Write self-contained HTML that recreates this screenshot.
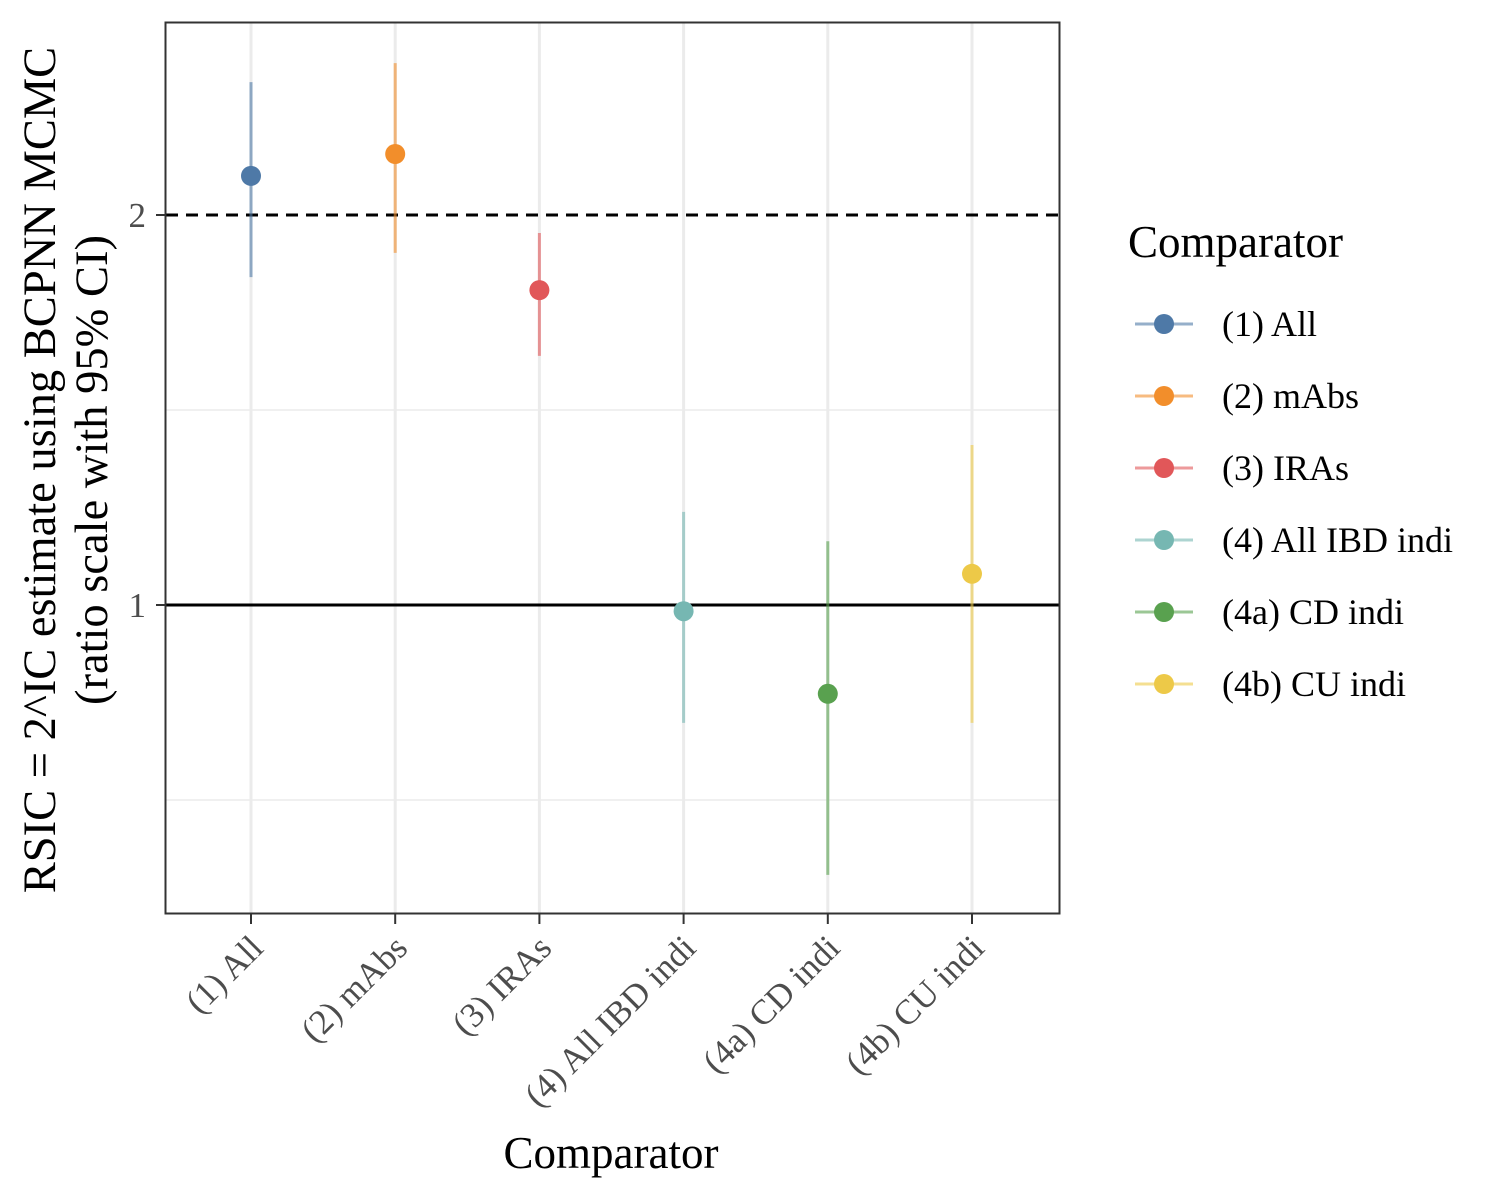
<!DOCTYPE html>
<html><head><meta charset="utf-8"><style>
body{margin:0;background:#fff}
svg{display:block;font-family:"Liberation Serif",serif}
</style></head><body>
<svg id="chart" width="1500" height="1200" viewBox="0 0 1500 1200">
<rect x="0" y="0" width="1500" height="1200" fill="#fff"/>
<g id="grid"></g>
<g id="marks"></g>
<rect x="165.5" y="22.5" width="894" height="891" fill="none" stroke="#333" stroke-width="2"/>
<g id="axes"></g>
<text x="611" y="1168" font-size="45" text-anchor="middle">Comparator</text>
<text transform="translate(55,470) rotate(-90)" font-size="46.5" text-anchor="middle">RSIC = 2^IC estimate using BCPNN MCMC</text>
<text transform="translate(107,470) rotate(-90)" font-size="46.5" text-anchor="middle">(ratio scale with 95% CI)</text>
<g id="legend"></g>
</svg>
<script>
const categories=["(1) All","(2) mAbs","(3) IRAs","(4) All IBD indi","(4a) CD indi","(4b) CU indi"];
const estimates=[2.144,2.229,1.75,0.989,0.854,1.057];
const lower=[1.791,1.87,1.557,0.811,0.619,0.811];
const upper=[2.533,2.62,1.937,1.18,1.12,1.329];
const colors=["#4e79a7","#f28e2b","#e15759","#76b7b2","#59a14f","#edc948"];
const yTicks=[1,2];
const yMinor=[Math.SQRT1_2,Math.SQRT2];
const NS="http://www.w3.org/2000/svg";
function xs(i){return 251+144.2*i;}
function ys(v){return 605-390*Math.log2(v);}
function mk(tag,attrs,parent){const e=document.createElementNS(NS,tag);for(const k in attrs)e.setAttribute(k,attrs[k]);parent.appendChild(e);return e;}
const grid=document.getElementById('grid'),marks=document.getElementById('marks'),axes=document.getElementById('axes'),legend=document.getElementById('legend');
yMinor.forEach(v=>{const l=mk('line',{x1:166,x2:1059,y1:ys(v),y2:ys(v),stroke:'#ebebeb','stroke-width':1.5},grid);

});
categories.forEach((c,i)=>{const l=mk('line',{x1:xs(i),x2:xs(i),y1:23,y2:913,stroke:'#ebebeb','stroke-width':3},grid);

});
const ref1=mk('line',{x1:166,x2:1059,y1:ys(1),y2:ys(1),stroke:'#000','stroke-width':3},grid);


const ref2=mk('line',{x1:166,x2:1059,y1:ys(2),y2:ys(2),stroke:'#000','stroke-width':3,'stroke-dasharray':'12 8'},grid);


categories.forEach((c,i)=>{
const l=mk('line',{x1:xs(i),x2:xs(i),y1:ys(upper[i]),y2:ys(lower[i]),stroke:colors[i],'stroke-width':3,'stroke-opacity':0.6},marks);


const p=mk('circle',{cx:xs(i),cy:ys(estimates[i]),r:10,fill:colors[i]},marks);


const t=mk('line',{x1:xs(i),x2:xs(i),y1:914,y2:924,stroke:'#333','stroke-width':2},axes);


const tx=mk('text',{transform:`translate(${xs(i)+14},${950}) rotate(-45)`,'font-size':35,fill:'#4d4d4d','text-anchor':'end'},axes);
tx.textContent=c;


const ly=324+72*i;
const ll=mk('line',{x1:1135,x2:1193,y1:ly,y2:ly,stroke:colors[i],'stroke-width':3,'stroke-opacity':0.6},legend);


const lc=mk('circle',{cx:1164,cy:ly,r:10,fill:colors[i]},legend);


const lt=mk('text',{x:1222,y:ly+12,'font-size':36},legend);
lt.textContent=c;


});
yTicks.forEach(v=>{
const t=mk('line',{x1:156,x2:165,y1:ys(v),y2:ys(v),stroke:'#333','stroke-width':2},axes);


const tx=mk('text',{x:146,y:ys(v)+12,'font-size':35,fill:'#4d4d4d','text-anchor':'end'},axes);
tx.textContent=String(v);


});
const lgT=mk('text',{x:1128,y:257,'font-size':45},legend);
lgT.textContent='Comparator';


</script>
</body></html>
